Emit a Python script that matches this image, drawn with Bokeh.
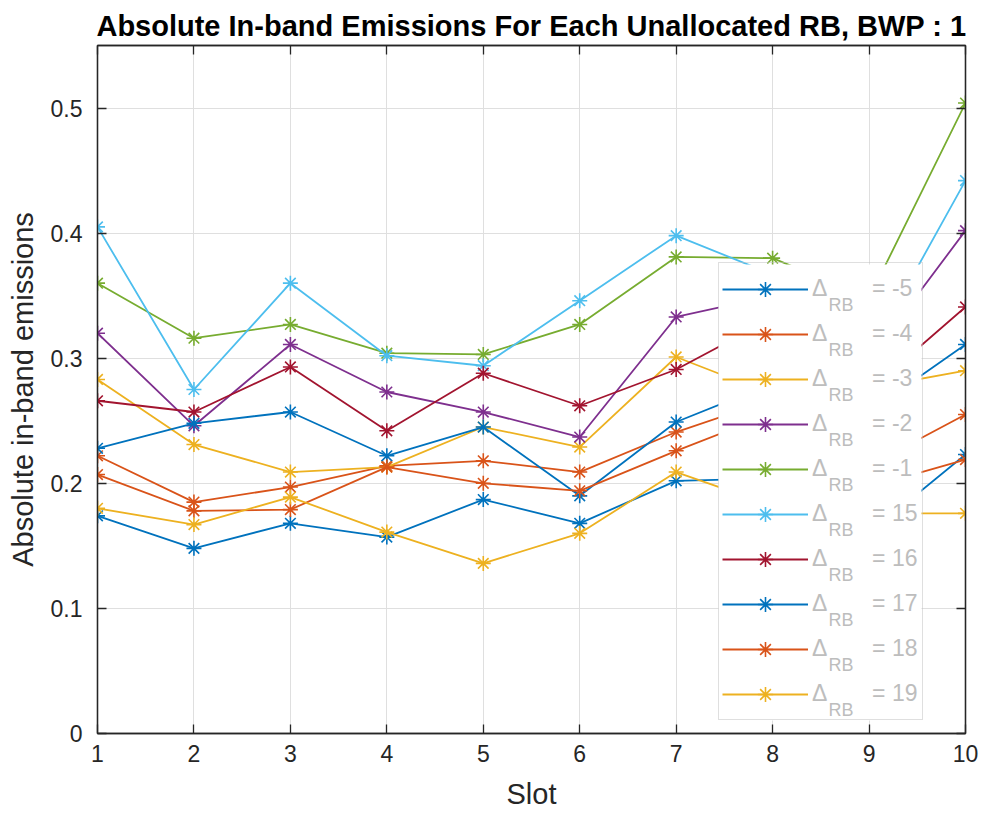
from bokeh.plotting import figure
from bokeh.models import (Legend, LegendItem, LinearAxis, FixedTicker,
                          CustomJSTickFormatter, Range1d)
from bokeh.core.properties import value
from bokeh.embed import file_html
from bokeh.resources import INLINE

# ---------------- data ----------------
slots = [1, 2, 3, 4, 5, 6, 7, 8, 9, 10]
y_ticks = [0, 0.1, 0.2, 0.3, 0.4, 0.5]
deltas = ["-5", "-4", "-3", "-2", "-1", "15", "16", "17", "18", "19"]

d_m5 = [0.174, 0.148, 0.168, 0.157, 0.187, 0.168, 0.202, 0.204, 0.160, 0.223]
d_m4 = [0.222, 0.185, 0.197, 0.214, 0.218, 0.209, 0.241, 0.267, 0.214, 0.255]
d_m3 = [0.283, 0.231, 0.209, 0.213, 0.245, 0.229, 0.301, 0.271, 0.276, 0.290]
d_m2 = [0.320, 0.246, 0.311, 0.273, 0.257, 0.237, 0.333, 0.350, 0.299, 0.402]
d_m1 = [0.360, 0.316, 0.327, 0.304, 0.303, 0.327, 0.381, 0.380, 0.348, 0.504]
d_15 = [0.405, 0.275, 0.360, 0.302, 0.294, 0.346, 0.398, 0.367, 0.303, 0.442]
d_16 = [0.266, 0.257, 0.293, 0.242, 0.288, 0.262, 0.291, 0.332, 0.274, 0.341]
d_17 = [0.228, 0.248, 0.257, 0.222, 0.245, 0.190, 0.249, 0.280, 0.257, 0.311]
d_18 = [0.207, 0.178, 0.179, 0.213, 0.200, 0.194, 0.226, 0.256, 0.197, 0.219]
d_19 = [0.180, 0.167, 0.189, 0.161, 0.136, 0.160, 0.209, 0.182, 0.176, 0.176]

series = [d_m5, d_m4, d_m3, d_m2, d_m1, d_15, d_16, d_17, d_18, d_19]
colors = ["#0072BD", "#D95319", "#EDB120", "#7E2F8E", "#77AC30",
          "#4DBEEE", "#A2142F", "#0072BD", "#D95319", "#EDB120"]

FONT = "Liberation Sans"
DARK = "#262626"
TXT = "#BDBDBD"

FW, FH = 868, 688
X0, X1, Y0, Y1 = 1, 10, 0, 0.55

p = figure(frame_width=FW, frame_height=FH, output_backend="svg", toolbar_location=None,
           x_range=Range1d(X0, X1), y_range=Range1d(Y0, Y1),
           min_border_left=97, min_border_right=14,
           min_border_top=45, min_border_bottom=80)

p.title.text = "Absolute In-band Emissions For Each Unallocated RB, BWP : 1"
p.title.text_font = FONT
p.title.text_font_size = "29px"
p.title.text_font_style = "bold"
p.title.text_color = "black"
p.title.align = "center"
p.title.standoff = 8

p.xaxis.axis_label = "Slot"
p.yaxis.axis_label = "Absolute in-band emissions"
p.xaxis.ticker = FixedTicker(ticks=slots)
p.yaxis.ticker = FixedTicker(ticks=y_ticks)
p.yaxis.formatter = CustomJSTickFormatter(code="return String(Math.round(tick*10)/10)")

for ax in (p.xaxis[0], p.yaxis[0]):
    ax.axis_line_color = DARK
    ax.axis_line_width = 1.3
    ax.major_tick_in = 9
    ax.major_tick_out = 0
    ax.minor_tick_in = 0
    ax.minor_tick_out = 0
    ax.major_tick_line_color = DARK
    ax.major_tick_line_width = 1.3
    ax.major_label_text_font = FONT
    ax.major_label_text_font_size = "23px"
    ax.major_label_text_color = DARK
    ax.axis_label_text_font = FONT
    ax.axis_label_text_font_size = "29px"
    ax.axis_label_text_font_style = "normal"
    ax.axis_label_text_color = DARK

p.xaxis.major_label_standoff = 11
p.xaxis.axis_label_standoff = 13
p.yaxis.major_label_standoff = 15
p.yaxis.axis_label_standoff = 9

# mirrored ticks on top and right (box on)
def mirror_axis(ticks):
    return LinearAxis(ticker=FixedTicker(ticks=ticks), major_label_text_font_size="0px",
                      major_label_text_color=None,
                      major_tick_in=9, major_tick_out=0, minor_tick_in=0, minor_tick_out=0,
                      major_label_standoff=0, axis_line_color=DARK, axis_line_width=1.3,
                      major_tick_line_color=DARK, major_tick_line_width=1.3)

p.add_layout(mirror_axis(y_ticks), "right")
p.add_layout(mirror_axis(slots), "above")

p.xgrid.ticker = FixedTicker(ticks=slots)
p.ygrid.ticker = FixedTicker(ticks=y_ticks)
p.grid.grid_line_color = "#DFDFDF"
p.grid.grid_line_width = 1
p.outline_line_color = DARK
p.outline_line_width = 1.3
p.background_fill_color = "white"

NB = "\u00a0"
items = []
for vals, col, d in zip(series, colors, deltas):
    rl = p.line(slots, vals, line_color=col, line_width=1.8)
    rs = p.scatter(slots, vals, marker="asterisk", size=15, line_color=col, line_width=1.6)
    items.append(LegendItem(label="Δ" + NB * 7 + "= " + d, renderers=[rl, rs]))

# ---- legend layout (pixels relative to the frame's bottom-left corner) ----
LG_LEFT, LG_BOTTOM, PAD, ROW_H, GW, STAND, LW = 621, 13, 3, 45, 86, 4, 107
LG_W = 2 * PAD + GW + STAND + LW
LG_H = 2 * PAD + len(deltas) * ROW_H

def px_x(px):
    return X0 + px * (X1 - X0) / FW

def px_y(px):
    return Y0 + px * (Y1 - Y0) / FH

# opaque white legend background drawn above the series
p.quad(left=[px_x(LG_LEFT)], right=[px_x(LG_LEFT + LG_W)],
       bottom=[px_y(LG_BOTTOM)], top=[px_y(LG_BOTTOM + LG_H)],
       fill_color="white", line_color=None)

# subscript "RB" of every legend label
lg_top = LG_BOTTOM + LG_H
tx0 = LG_LEFT + PAD + GW + STAND
sub_x = [px_x(tx0 + 17)] * len(deltas)
sub_y = [px_y(lg_top - PAD - ROW_H * (i + 0.5) - 15) for i in range(len(deltas))]
p.text(x=sub_x, y=sub_y, text=["RB"] * len(deltas),
       text_font=value(FONT), text_font_size=value("18px"), text_color=TXT,
       text_baseline="alphabetic", text_align="left")

legend = Legend(items=items, location=(LG_LEFT, LG_BOTTOM), padding=PAD, spacing=0,
                label_height=ROW_H, glyph_height=38, glyph_width=GW,
                label_standoff=STAND, label_width=LW, margin=0,
                border_line_color="#BFBFBF", border_line_width=1.5,
                background_fill_alpha=0.0,
                label_text_font=FONT, label_text_font_size="23px",
                label_text_color=TXT)
p.add_layout(legend)

open("out.html", "w").write(file_html(p, INLINE))
